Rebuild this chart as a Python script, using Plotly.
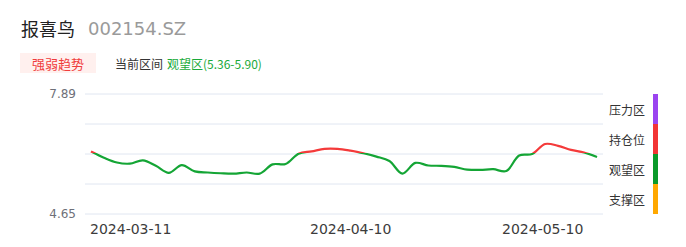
import plotly.graph_objects as go

# ---------------- data ----------------
dates = [
    "2024-03-11", "2024-03-12", "2024-03-13", "2024-03-14", "2024-03-15",
    "2024-03-18", "2024-03-19", "2024-03-20", "2024-03-21", "2024-03-22",
    "2024-03-25", "2024-03-26", "2024-03-27", "2024-03-28", "2024-03-29",
    "2024-04-01", "2024-04-02", "2024-04-03", "2024-04-08", "2024-04-09",
    "2024-04-10", "2024-04-11", "2024-04-12", "2024-04-15", "2024-04-16",
    "2024-04-17", "2024-04-18", "2024-04-19", "2024-04-22", "2024-04-23",
    "2024-04-24", "2024-04-25", "2024-04-26", "2024-04-29", "2024-04-30",
    "2024-05-06", "2024-05-07", "2024-05-08", "2024-05-09", "2024-05-10",
]
values = [
    6.34, 6.17, 6.04, 6.01, 6.10, 5.95, 5.76, 5.97, 5.80, 5.77,
    5.75, 5.74, 5.77, 5.74, 5.99, 6.00, 6.28, 6.34, 6.41, 6.41,
    6.36, 6.29, 6.20, 6.08, 5.74, 6.03, 5.96, 5.95, 5.92, 5.85,
    5.84, 5.86, 5.81, 6.23, 6.27, 6.54, 6.49, 6.38, 6.31, 6.19,
]
x_tick_labels = ["2024-03-11", "2024-04-10", "2024-05-10"]
y_min, y_max = 4.65, 7.89
y_ticks = [4.65, 5.46, 6.27, 7.08, 7.89]
y_tick_text = ["4.65", "", "", "", "7.89"]
hold_threshold = 6.30

zone_names = ["压力区", "持仓位", "观望区", "支撑区"]
zone_colors = ["#9B44F0", "#F23535", "#0A9A2A", "#FFA800"]
zone_bounds = [7.89, 7.08, 6.27, 5.46, 4.65]

title_name = "报喜鸟"
title_code = "002154.SZ"
badge_text = "强弱趋势"
range_label = "当前区间"
range_value = "观望区(5.36-5.90)"

GREEN = "#14A535"
RED = "#F43A3A"
FONT = "DejaVu Sans, Noto Sans CJK SC, sans-serif"
CJK = "Noto Sans CJK SC, DejaVu Sans, sans-serif"

# ---------------- layout helpers (pixel -> paper) ----------------
W, H = 686, 247
L, R, T, B = 85, 603, 94, 214
def px(x):
    return (x - L) / (R - L)
def py(y):
    return (B - y) / (B - T)

frac = (hold_threshold - y_min) / (y_max - y_min)

fig = go.Figure()
# invisible carrier trace for the main axis
fig.add_trace(go.Scatter(x=dates, y=values, mode="lines", line=dict(width=0, color="rgba(0,0,0,0)"),
                         hoverinfo="skip", showlegend=False, xaxis="x", yaxis="y"))
# green part (below threshold), clipped by y2 domain
fig.add_trace(go.Scatter(x=dates, y=values, mode="lines", line=dict(color=GREEN, width=2.2, shape="spline", smoothing=1),
                         showlegend=False, xaxis="x", yaxis="y2"))
# red part (above threshold), clipped by y3 domain
fig.add_trace(go.Scatter(x=dates, y=values, mode="lines", line=dict(color=RED, width=2.2, shape="spline", smoothing=1),
                         showlegend=False, xaxis="x", yaxis="y3"))

n = len(dates)
xr = [-0.46, n - 1 + 0.46]

fig.update_layout(
    width=W, height=H,
    margin=dict(l=L, r=W - R, t=T, b=H - B, pad=0),
    paper_bgcolor="white", plot_bgcolor="rgba(0,0,0,0)",
    font=dict(family=FONT, color="#333333"),
    xaxis=dict(type="category", range=xr, showgrid=False, showticklabels=False, ticks="",
               zeroline=False, showline=False, domain=[0, 1], anchor="y"),
    yaxis=dict(range=[y_min, y_max], domain=[0, 1], tickvals=y_ticks, ticktext=y_tick_text,
               showgrid=False, zeroline=False, showline=False,
               ticks="", ticklabelstandoff=8,
               tickfont=dict(family=FONT, size=12, color="#6E7079"), anchor="x"),
    yaxis2=dict(range=[y_min, hold_threshold], domain=[0, frac], visible=False, showgrid=False,
                zeroline=False, anchor="x"),
    yaxis3=dict(range=[hold_threshold, y_max], domain=[frac, 1], visible=False, showgrid=False,
                zeroline=False, anchor="x"),
    hovermode=False,
)

ann = []
shapes = []
# grid lines at every y tick
for v in y_ticks:
    shapes.append(dict(type="line", xref="paper", yref="paper", x0=0, x1=1,
                       y0=(v - y_min) / (y_max - y_min), y1=(v - y_min) / (y_max - y_min),
                       line=dict(color="#E0E6F1", width=1), layer="below"))
# title
ann.append(dict(text=title_name, x=px(19), y=py(28), xref="paper", yref="paper",
                xanchor="left", yanchor="middle", showarrow=False,
                font=dict(family=CJK, size=18, color="#222222")))
ann.append(dict(text=title_code, x=px(86), y=py(29), xref="paper", yref="paper",
                xanchor="left", yanchor="middle", showarrow=False,
                font=dict(family=FONT, size=18, color="#9A9A9A")))
# badge
ann.append(dict(text=badge_text, x=px(58), y=py(63), xref="paper", yref="paper",
                xanchor="center", yanchor="middle", showarrow=False,
                font=dict(family=CJK, size=13, color="#F03C3C")))
ann.append(dict(text=range_label, x=px(113), y=py(63), xref="paper", yref="paper",
                xanchor="left", yanchor="middle", showarrow=False,
                font=dict(family=CJK, size=12, color="#333333")))
ann.append(dict(text=range_value, x=px(165), y=py(63), xref="paper", yref="paper",
                xanchor="left", yanchor="middle", showarrow=False,
                font=dict(family=CJK, size=12, color="#1AAA3A")))
# x tick labels
anchors = ["left", "center", "right"]
shifts = [-3, 0, -12]
for lab, a, s in zip(x_tick_labels, anchors, shifts):
    ann.append(dict(text=lab, x=lab, y=py(229), xref="x", yref="paper", xanchor=a, yanchor="middle",
                    xshift=s, showarrow=False, font=dict(family=FONT, size=14, color="#3C3C3C")))
# zone legend
shapes.append(dict(type="rect", xref="paper", yref="paper", x0=px(20), x1=px(96), y0=py(73), y1=py(53),
                   fillcolor="#FFF0EE", line=dict(width=0), layer="below"))
for i, (name, col) in enumerate(zip(zone_names, zone_colors)):
    top, bot = zone_bounds[i], zone_bounds[i + 1]
    shapes.append(dict(type="rect", xref="paper", yref="y", x0=px(653), x1=px(658), y0=bot, y1=top,
                       fillcolor=col, line=dict(width=0)))
    ann.append(dict(text=name, x=px(607), y=(top + bot) / 2, xref="paper", yref="y",
                    xanchor="left", yanchor="middle", showarrow=False,
                    font=dict(family=CJK, size=12, color="#333333")))

fig.update_layout(annotations=ann, shapes=shapes)
fig.write_html("out.html")
